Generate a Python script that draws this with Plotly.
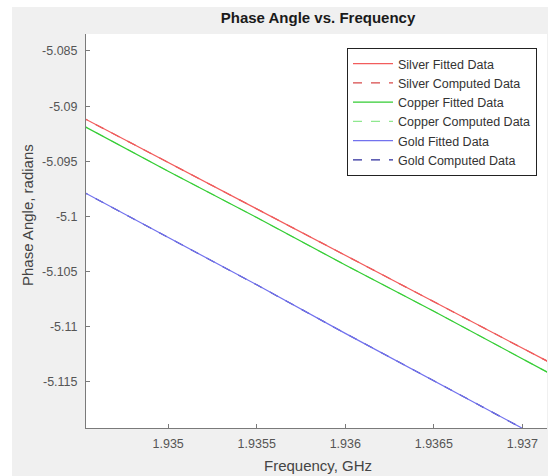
import plotly.graph_objects as go

# Data
frequency = [1.9345, 1.9350, 1.9355, 1.9360, 1.9365, 1.9370, 1.93715]
silver_fitted = [-5.0909, -5.0951, -5.0993, -5.1035, -5.1077, -5.1119, -5.1132]
silver_computed = [-5.0909, -5.0951, -5.0993, -5.1035, -5.1077, -5.1119, -5.1132]
copper_fitted = [-5.0916, -5.0959, -5.1001, -5.1044, -5.1086, -5.1129, -5.1142]
copper_computed = [-5.0916, -5.0959, -5.1001, -5.1044, -5.1086, -5.1129, -5.1142]
gold_fitted = [-5.0976, -5.1019, -5.1062, -5.1106, -5.1149, -5.1192, -5.1205]
gold_computed = [-5.0976, -5.1019, -5.1062, -5.1106, -5.1149, -5.1192, -5.1205]

x_tickvals = [1.935, 1.9355, 1.936, 1.9365, 1.937]
x_ticktext = ["1.935", "1.9355", "1.936", "1.9365", "1.937"]
y_tickvals = [-5.085, -5.09, -5.095, -5.1, -5.105, -5.11, -5.115]
y_ticktext = ["-5.085", "-5.09", "-5.095", "-5.1", "-5.105", "-5.11", "-5.115"]

W, H = 548, 476
ML, MR, MT, MB = 86, 1, 34, 48
pw = W - ML - MR
ph = H - MT - MB

fig = go.Figure()

series = [
    ("Silver Computed Data", silver_computed, "#d84a4a", "dash", 2),
    ("Copper Computed Data", copper_computed, "#8fe88f", "dash", 4),
    ("Gold Computed Data", gold_computed, "#2c2c9c", "dash", 6),
    ("Silver Fitted Data", silver_fitted, "#f25c5c", "solid", 1),
    ("Copper Fitted Data", copper_fitted, "#33cc33", "solid", 3),
    ("Gold Fitted Data", gold_fitted, "#7272ee", "solid", 5),
]
for name, vals, color, dash, rank in series:
    fig.add_trace(go.Scatter(
        x=frequency, y=vals, mode="lines", name=name,
        line=dict(color=color, width=1.2, dash=dash),
        legendrank=rank,
    ))

def px_to_paper_x(px):
    return (px - ML) / pw

def px_to_paper_y(py):
    return (H - MB - py) / ph

# white strips at left and top (as in the screenshot)
fig.add_shape(type="rect", xref="paper", yref="paper",
              x0=px_to_paper_x(0), x1=px_to_paper_x(12),
              y0=px_to_paper_y(H), y1=px_to_paper_y(0),
              fillcolor="white", line_width=0, layer="below")
fig.add_shape(type="rect", xref="paper", yref="paper",
              x0=px_to_paper_x(0), x1=px_to_paper_x(W),
              y0=px_to_paper_y(7), y1=px_to_paper_y(0),
              fillcolor="white", line_width=0, layer="below")

font_family = "Liberation Sans, Arial, sans-serif"

# axis titles as annotations
fig.add_annotation(text="Frequency, GHz", xref="paper", yref="paper",
                   x=px_to_paper_x(318), y=px_to_paper_y(465),
                   xanchor="center", yanchor="middle", showarrow=False,
                   font=dict(size=15, color="#444444"))
fig.add_annotation(text="Phase Angle, radians", xref="paper", yref="paper",
                   x=px_to_paper_x(27), y=px_to_paper_y(215), textangle=-90,
                   xanchor="center", yanchor="middle", showarrow=False,
                   font=dict(size=15, color="#444444"))

fig.update_layout(
    width=W, height=H,
    margin=dict(l=ML, r=MR, t=MT, b=MB),
    paper_bgcolor="#f0f0f0",
    plot_bgcolor="white",
    font=dict(family=font_family, size=12, color="#404040"),
    title=dict(text="<b>Phase Angle vs. Frequency</b>", x=px_to_paper_x(318), xref="paper",
               xanchor="center", y=1 - 18 / H, yanchor="middle",
               font=dict(size=15, color="#1a1a1a")),
    showlegend=True,
    legend=dict(
        x=px_to_paper_x(347), y=px_to_paper_y(48), xanchor="left", yanchor="top",
        bgcolor="white", bordercolor="#222222", borderwidth=1,
        font=dict(size=12.5, color="#333333"),
        tracegroupgap=0, itemwidth=40,
    ),
    xaxis=dict(
        range=[1.934536, 1.937139],
        tickvals=x_tickvals, ticktext=x_ticktext,
        showgrid=False, zeroline=False,
        showline=True, linecolor="#7a7a7a", linewidth=1,
        ticks="inside", ticklen=4, tickcolor="#7a7a7a",
        tickfont=dict(size=12.5, color="#555555"),
        ticklabelstandoff=4,
    ),
    yaxis=dict(
        range=[-5.11918, -5.08346],
        tickvals=y_tickvals, ticktext=y_ticktext,
        showgrid=False, zeroline=False,
        showline=True, linecolor="#7a7a7a", linewidth=1,
        ticks="inside", ticklen=4, tickcolor="#7a7a7a",
        tickfont=dict(size=12.5, color="#555555"),
        ticklabelstandoff=5,
    ),
)

fig.write_html("out.html")
